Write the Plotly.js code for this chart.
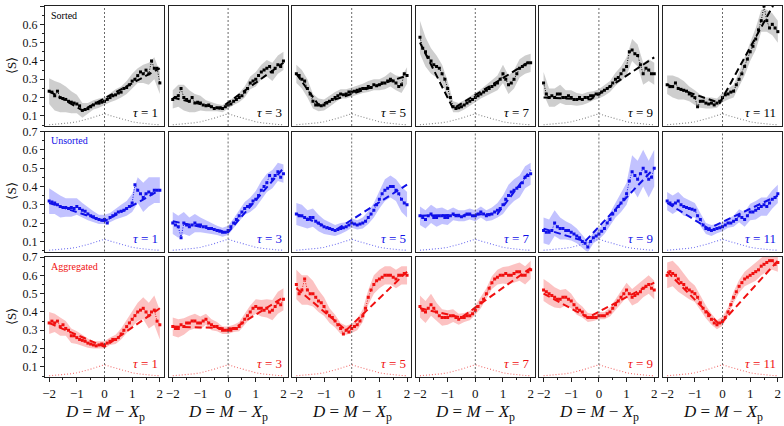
<!DOCTYPE html>
<html><head><meta charset="utf-8">
<script src="https://cdn.plot.ly/plotly-3.0.1.min.js"></script>
<style>html,body{margin:0;padding:0;background:#fff}#chart{width:784px;height:426px}</style>
</head><body><div id="chart"></div>
<script>
// ---------- data ----------
const xGrid = [-2.0,-1.9,-1.8,-1.7,-1.6,-1.5,-1.4,-1.3,-1.2,-1.1,-1.0,-0.9,-0.8,-0.7,-0.6,-0.5,-0.4,-0.3,-0.2,-0.1,0.0,0.1,0.2,0.3,0.4,0.5,0.6,0.7,0.8,0.9,1.0,1.1,1.2,1.3,1.4,1.5,1.6,1.7,1.8,1.9,2.0];
const bandX = [-2.0,-1.8,-1.6,-1.4,-1.2,-1.0,-0.8,-0.6,-0.4,-0.2,0.0,0.2,0.4,0.6,0.8,1.0,1.2,1.4,1.6,1.8,2.0];
const tauLabels = ["1","3","5","7","9","11"];
const rowNames = ["Sorted","Unsorted","Aggregated"];
const xTicks = [-2,-1,0,1,2];
const yTicks = [0.1,0.2,0.3,0.4,0.5,0.6,0.7];

// Sorted
const sorted_t1 = [0.235,0.23,0.21,0.235,0.2,0.195,0.19,0.18,0.175,0.17,0.165,0.155,0.13,0.135,0.14,0.15,0.16,0.17,0.17,0.175,0.18,0.19,0.2,0.21,0.215,0.225,0.23,0.25,0.255,0.27,0.29,0.3,0.32,0.34,0.33,0.35,0.33,0.4,0.36,0.36,0.28];
const sorted_t3 = [0.19,0.2,0.21,0.25,0.2,0.19,0.18,0.2,0.17,0.175,0.17,0.16,0.155,0.16,0.15,0.14,0.145,0.145,0.14,0.15,0.16,0.165,0.18,0.19,0.2,0.21,0.23,0.25,0.28,0.29,0.3,0.32,0.34,0.35,0.36,0.37,0.34,0.36,0.38,0.37,0.4];
const sorted_t5 = [0.33,0.32,0.3,0.29,0.25,0.22,0.18,0.16,0.16,0.155,0.16,0.17,0.18,0.19,0.2,0.21,0.22,0.215,0.22,0.23,0.23,0.235,0.24,0.245,0.25,0.25,0.26,0.255,0.27,0.265,0.27,0.28,0.28,0.29,0.3,0.29,0.28,0.26,0.27,0.33,0.32];
const sorted_t7 = [0.53,0.47,0.45,0.42,0.4,0.38,0.37,0.36,0.33,0.3,0.25,0.2,0.15,0.14,0.145,0.15,0.16,0.17,0.18,0.19,0.2,0.21,0.22,0.23,0.24,0.25,0.26,0.27,0.28,0.3,0.33,0.3,0.27,0.28,0.3,0.33,0.36,0.37,0.38,0.39,0.39];
const sorted_t9 = [0.28,0.22,0.2,0.21,0.2,0.22,0.22,0.2,0.2,0.21,0.2,0.19,0.19,0.2,0.19,0.2,0.2,0.21,0.21,0.22,0.22,0.23,0.24,0.25,0.26,0.28,0.3,0.31,0.33,0.35,0.37,0.45,0.46,0.44,0.43,0.38,0.33,0.36,0.35,0.33,0.33];
const sorted_t11 = [0.27,0.26,0.26,0.28,0.25,0.245,0.24,0.235,0.22,0.21,0.2,0.15,0.18,0.18,0.17,0.165,0.17,0.16,0.17,0.18,0.2,0.215,0.22,0.23,0.235,0.27,0.3,0.33,0.37,0.41,0.45,0.48,0.52,0.57,0.62,0.7,0.62,0.58,0.6,0.58,0.56];
// Unsorted
const unsorted_t1 = [0.32,0.315,0.31,0.3,0.29,0.285,0.285,0.28,0.285,0.28,0.29,0.28,0.27,0.265,0.25,0.24,0.235,0.225,0.22,0.215,0.22,0.2,0.23,0.24,0.25,0.26,0.265,0.27,0.28,0.29,0.31,0.41,0.38,0.36,0.34,0.36,0.37,0.36,0.38,0.38,0.38];
const unsorted_t3 = [0.2,0.19,0.18,0.12,0.2,0.19,0.18,0.19,0.2,0.19,0.19,0.18,0.18,0.17,0.17,0.165,0.16,0.155,0.15,0.15,0.16,0.18,0.2,0.22,0.24,0.26,0.28,0.29,0.3,0.32,0.33,0.35,0.38,0.4,0.42,0.46,0.44,0.46,0.48,0.45,0.47];
const unsorted_t5 = [0.25,0.24,0.24,0.23,0.22,0.23,0.23,0.21,0.2,0.19,0.18,0.175,0.17,0.165,0.16,0.165,0.17,0.175,0.18,0.19,0.2,0.195,0.19,0.195,0.2,0.21,0.23,0.25,0.27,0.3,0.33,0.36,0.38,0.39,0.4,0.4,0.38,0.36,0.33,0.31,0.3];
const unsorted_t7 = [0.24,0.23,0.22,0.24,0.25,0.23,0.23,0.24,0.24,0.23,0.23,0.24,0.25,0.24,0.24,0.235,0.24,0.25,0.25,0.24,0.24,0.25,0.26,0.25,0.24,0.245,0.25,0.26,0.27,0.28,0.3,0.33,0.35,0.37,0.38,0.39,0.4,0.42,0.45,0.46,0.47];
const unsorted_t9 = [0.16,0.15,0.15,0.16,0.2,0.18,0.17,0.17,0.16,0.16,0.15,0.14,0.13,0.12,0.1,0.09,0.07,0.1,0.12,0.13,0.14,0.155,0.17,0.2,0.22,0.25,0.27,0.29,0.31,0.33,0.36,0.43,0.48,0.46,0.44,0.47,0.5,0.48,0.44,0.45,0.5];
const unsorted_t11 = [0.32,0.31,0.3,0.31,0.32,0.3,0.29,0.285,0.28,0.275,0.27,0.24,0.22,0.19,0.17,0.165,0.16,0.165,0.17,0.175,0.18,0.19,0.2,0.2,0.21,0.22,0.24,0.23,0.22,0.24,0.26,0.26,0.27,0.28,0.29,0.3,0.29,0.31,0.33,0.34,0.36];
// Aggregated
const aggregated_t1 = [0.34,0.35,0.34,0.35,0.32,0.33,0.31,0.3,0.27,0.27,0.26,0.25,0.245,0.24,0.23,0.225,0.22,0.215,0.22,0.225,0.22,0.23,0.24,0.25,0.25,0.26,0.28,0.3,0.32,0.34,0.36,0.38,0.4,0.41,0.42,0.4,0.38,0.4,0.41,0.35,0.33];
const aggregated_t3 = [0.32,0.31,0.31,0.33,0.32,0.34,0.34,0.35,0.35,0.34,0.34,0.35,0.36,0.34,0.33,0.32,0.32,0.31,0.3,0.3,0.3,0.3,0.31,0.31,0.32,0.34,0.36,0.38,0.4,0.42,0.43,0.42,0.42,0.41,0.42,0.4,0.41,0.43,0.45,0.44,0.47];
const aggregated_t5 = [0.55,0.5,0.52,0.58,0.52,0.5,0.5,0.48,0.46,0.45,0.43,0.4,0.38,0.37,0.35,0.33,0.31,0.28,0.3,0.29,0.31,0.32,0.33,0.35,0.38,0.42,0.48,0.52,0.55,0.57,0.58,0.59,0.6,0.6,0.6,0.59,0.58,0.6,0.6,0.61,0.6];
const aggregated_t7 = [0.43,0.41,0.4,0.42,0.44,0.42,0.4,0.38,0.37,0.37,0.37,0.38,0.38,0.37,0.36,0.37,0.37,0.38,0.38,0.39,0.41,0.43,0.45,0.47,0.5,0.53,0.56,0.58,0.59,0.6,0.6,0.61,0.6,0.6,0.61,0.62,0.62,0.6,0.6,0.62,0.63];
const aggregated_t9 = [0.52,0.51,0.5,0.49,0.48,0.47,0.47,0.48,0.48,0.47,0.46,0.44,0.42,0.41,0.4,0.38,0.37,0.37,0.37,0.37,0.38,0.38,0.38,0.39,0.4,0.42,0.44,0.46,0.48,0.5,0.52,0.5,0.48,0.49,0.5,0.51,0.53,0.54,0.55,0.53,0.52];
const aggregated_t11 = [0.6,0.62,0.61,0.6,0.58,0.56,0.55,0.53,0.52,0.51,0.5,0.48,0.45,0.42,0.4,0.38,0.36,0.34,0.33,0.34,0.35,0.37,0.4,0.44,0.48,0.51,0.54,0.56,0.58,0.59,0.6,0.61,0.62,0.63,0.65,0.66,0.67,0.68,0.68,0.66,0.67];

// band half-widths (at bandX)
const err_s1 = [0.07,0.08,0.08,0.07,0.06,0.05,0.04,0.03,0.025,0.025,0.02,0.025,0.03,0.03,0.035,0.04,0.04,0.05,0.06,0.06,0.06];
const err_s3 = [0.05,0.06,0.07,0.06,0.05,0.04,0.03,0.025,0.02,0.02,0.02,0.02,0.025,0.03,0.035,0.04,0.04,0.045,0.05,0.05,0.05];
const err_s5 = [0.05,0.05,0.05,0.04,0.035,0.03,0.03,0.03,0.025,0.025,0.025,0.025,0.025,0.03,0.03,0.03,0.035,0.04,0.04,0.045,0.045];
const err_s7 = [0.09,0.08,0.07,0.06,0.05,0.04,0.03,0.025,0.025,0.025,0.025,0.025,0.03,0.035,0.04,0.05,0.05,0.05,0.05,0.05,0.05];
const err_s9 = [0.06,0.05,0.05,0.05,0.04,0.04,0.035,0.03,0.03,0.025,0.025,0.03,0.03,0.035,0.04,0.05,0.06,0.06,0.06,0.06,0.06];
const err_s11 = [0.05,0.06,0.06,0.05,0.04,0.04,0.035,0.03,0.03,0.025,0.025,0.03,0.035,0.04,0.05,0.05,0.06,0.06,0.06,0.06,0.06];
const err_u1 = [0.07,0.06,0.06,0.05,0.05,0.045,0.04,0.035,0.03,0.025,0.025,0.025,0.03,0.035,0.04,0.05,0.07,0.08,0.08,0.07,0.07];
const err_u3 = [0.06,0.06,0.06,0.05,0.05,0.04,0.035,0.03,0.025,0.025,0.025,0.025,0.03,0.035,0.04,0.045,0.05,0.05,0.05,0.05,0.05];
const err_u5 = [0.06,0.06,0.05,0.05,0.045,0.04,0.035,0.03,0.03,0.025,0.025,0.025,0.03,0.035,0.04,0.05,0.06,0.06,0.06,0.07,0.07];
const err_u7 = [0.05,0.05,0.05,0.05,0.045,0.04,0.035,0.03,0.03,0.03,0.03,0.03,0.03,0.035,0.04,0.05,0.06,0.06,0.06,0.06,0.06];
const err_u9 = [0.07,0.07,0.07,0.06,0.05,0.045,0.04,0.035,0.03,0.03,0.03,0.03,0.035,0.04,0.05,0.06,0.09,0.1,0.1,0.1,0.1];
const err_u11 = [0.05,0.05,0.05,0.05,0.045,0.04,0.035,0.03,0.03,0.025,0.025,0.025,0.03,0.035,0.04,0.045,0.05,0.05,0.05,0.05,0.05];
const err_a1 = [0.06,0.05,0.05,0.04,0.04,0.035,0.03,0.025,0.02,0.02,0.02,0.02,0.025,0.03,0.035,0.04,0.05,0.06,0.07,0.08,0.08];
const err_a3 = [0.05,0.05,0.045,0.04,0.04,0.035,0.03,0.03,0.025,0.02,0.02,0.02,0.025,0.03,0.035,0.04,0.045,0.05,0.055,0.06,0.06];
const err_a5 = [0.08,0.08,0.08,0.07,0.06,0.05,0.04,0.035,0.03,0.025,0.025,0.03,0.035,0.04,0.05,0.05,0.05,0.05,0.05,0.05,0.05];
const err_a7 = [0.06,0.06,0.06,0.05,0.045,0.04,0.035,0.03,0.025,0.025,0.025,0.03,0.03,0.035,0.04,0.045,0.05,0.05,0.05,0.05,0.05];
const err_a9 = [0.06,0.06,0.055,0.05,0.045,0.04,0.035,0.03,0.025,0.02,0.02,0.02,0.025,0.03,0.035,0.04,0.045,0.05,0.05,0.05,0.05];
const err_a11 = [0.07,0.07,0.07,0.06,0.05,0.045,0.04,0.035,0.03,0.025,0.025,0.025,0.03,0.035,0.04,0.045,0.05,0.05,0.05,0.05,0.05];

// piecewise-linear fits: knots x and y
const fitX_s = [[-2,-0.8,2],[-2,-0.3,2],[-2,-1.2,2],[-2,-0.8,2],[-2,-0.3,2],[-2,-0.1,2]];
const fitY_s = [[0.235,0.13,0.36],[0.2,0.14,0.39],[0.33,0.16,0.32],[0.5,0.14,0.4],[0.2,0.19,0.42],[0.27,0.17,0.75]];
const fitX_u = [[-2,0,2],[-2,0,2],[-2,-0.6,2],[-2,0.8,2],[-2,-0.5,2],[-2,-0.5,2]];
const fitY_u = [[0.31,0.21,0.38],[0.21,0.15,0.5],[0.25,0.16,0.41],[0.24,0.25,0.49],[0.17,0.1,0.5],[0.31,0.17,0.35]];
const fitX_a = [[-2,0,2],[-2,0.2,2],[-2,-0.2,2],[-2,-0.5,2],[-2,-0.4,2],[-2,-0.1,2]];
const fitY_a = [[0.34,0.21,0.42],[0.32,0.31,0.48],[0.53,0.3,0.62],[0.42,0.37,0.64],[0.5,0.37,0.56],[0.62,0.33,0.68]];

// distribution curve (shared)
const distX = [-2,-1.75,-1.5,-1.25,-1,-0.75,-0.5,-0.25,0,0.25,0.5,0.75,1,1.25,1.5,1.75,2];
const distY = [0.052,0.054,0.057,0.062,0.068,0.077,0.088,0.1,0.112,0.1,0.088,0.077,0.068,0.062,0.057,0.054,0.052];

// ---------- build ----------
const rowsData = [
  [sorted_t1,sorted_t3,sorted_t5,sorted_t7,sorted_t9,sorted_t11],
  [unsorted_t1,unsorted_t3,unsorted_t5,unsorted_t7,unsorted_t9,unsorted_t11],
  [aggregated_t1,aggregated_t3,aggregated_t5,aggregated_t7,aggregated_t9,aggregated_t11]];
const rowsErr = [
  [err_s1,err_s3,err_s5,err_s7,err_s9,err_s11],
  [err_u1,err_u3,err_u5,err_u7,err_u9,err_u11],
  [err_a1,err_a3,err_a5,err_a7,err_a9,err_a11]];
const rowsFitX = [fitX_s,fitX_u,fitX_a];
const rowsFitY = [fitY_s,fitY_u,fitY_a];

const lineCol = ['#000000','#1010e8','#f01010'];
const bandCol = ['rgba(165,165,165,0.55)','rgba(120,120,255,0.45)','rgba(248,120,120,0.45)'];
const distCol = ['#888888','#7070f0','#f07070'];

const W=784,H=426;
const colLeft0=45, colStep=123.6, panelW=119;
const rowTops=[6,131.5,257], panelH=120;
const serif = "'Liberation Serif', 'Times New Roman', serif";

const traces=[], layout={width:W,height:H,margin:{l:0,r:0,t:0,b:0},showlegend:false,
  font:{family:serif},
  paper_bgcolor:'#fff',plot_bgcolor:'#fff',shapes:[],annotations:[]};

for(let r=0;r<3;r++){
  for(let c=0;c<6;c++){
    const k=r*6+c+1;
    const xa='x'+(k===1?'':k), ya='y'+(k===1?'':k);
    const xd=[(colLeft0+c*colStep)/W,(colLeft0+c*colStep+panelW)/W];
    const yd=[1-(rowTops[r]+panelH)/H,1-rowTops[r]/H];
    const data=rowsData[r][c], err=rowsErr[r][c];
    const bandMean = bandX.map((bx,i)=>data[2*i]);
    const hi = bandMean.map((m,i)=>m+err[i]);
    const lo = bandMean.map((m,i)=>m-err[i]);
    traces.push({x:bandX.concat(bandX.slice().reverse()),y:hi.concat(lo.slice().reverse()),
      xaxis:xa,yaxis:ya,type:'scatter',mode:'lines',fill:'toself',fillcolor:bandCol[r],
      line:{width:0},hoverinfo:'skip'});
    traces.push({x:distX,y:distY,xaxis:xa,yaxis:ya,type:'scatter',mode:'lines',
      line:{color:distCol[r],width:1.1,dash:'1px,2px'}});
    traces.push({x:rowsFitX[r][c],y:rowsFitY[r][c],xaxis:xa,yaxis:ya,type:'scatter',mode:'lines',
      line:{color:lineCol[r],width:2,dash:'7px,4px'}});
    traces.push({x:xGrid,y:data,xaxis:xa,yaxis:ya,type:'scatter',mode:'lines+markers',
      line:{color:lineCol[r],width:1,dash:'1px,1.5px'},marker:{color:lineCol[r],size:3,symbol:'square'}});
    const bottom = r===2, left = c===0;
    layout['xaxis'+(k===1?'':k)]={domain:xd,anchor:ya,range:[-2.15,2.15],showgrid:false,zeroline:false,
      showline:true,mirror:true,linecolor:'#222',linewidth:1,
      tickvals:xTicks,ticks:bottom?'outside':'',ticklen:4,tickcolor:'#222',
      showticklabels:bottom,tickfont:{family:serif,size:13,color:'#111'},
      minor:bottom?{ticks:'outside',ticklen:2,dtick:0.5,tick0:0,tickcolor:'#222'}:undefined};
    layout['yaxis'+(k===1?'':k)]={domain:yd,anchor:xa,range:[0.045,0.7],showgrid:false,zeroline:false,
      showline:true,mirror:true,linecolor:'#222',linewidth:1,
      tickvals:yTicks,ticks:left?'outside':'',ticklen:4,tickcolor:'#222',
      showticklabels:left,tickfont:{family:serif,size:12,color:'#111'},
      minor:left?{ticks:'outside',ticklen:2,dtick:0.05,tick0:0,tickcolor:'#222'}:undefined};
    layout.shapes.push({type:'line',xref:xa,yref:ya+' domain',x0:0,x1:0,y0:0,y1:1,
      line:{color:'#444',width:0.8,dash:'2px,2px'}});
    layout.annotations.push({xref:xa+' domain',yref:ya+' domain',x:0.97,y:0.03,xanchor:'right',yanchor:'bottom',
      showarrow:false,text:'<i>τ</i> = '+tauLabels[c],font:{family:serif,size:13,color:lineCol[r]}});
    if(c===0){
      layout.annotations.push({xref:xa+' domain',yref:ya+' domain',x:0.03,y:0.985,xanchor:'left',yanchor:'top',
        showarrow:false,text:rowNames[r],font:{family:serif,size:10,color:lineCol[r]}});
      layout.annotations.push({xref:'paper',yref:'paper',x:11/W,y:(yd[0]+yd[1])/2,xanchor:'center',yanchor:'middle',
        textangle:-90,showarrow:false,text:'⟨S⟩',font:{family:serif,size:13,color:'#111'}});
    }
    if(r===2){
      layout.annotations.push({xref:'paper',yref:'paper',x:(xd[0]+xd[1])/2,y:1-413/H,xanchor:'center',yanchor:'middle',
        showarrow:false,text:'<i>D</i> = <i>M</i> − <i>X</i><sub>p</sub>',font:{family:serif,size:17,color:'#111'}});
    }
  }
}
Plotly.newPlot('chart',traces,layout,{staticPlot:true,displayModeBar:false});
</script></body></html>
